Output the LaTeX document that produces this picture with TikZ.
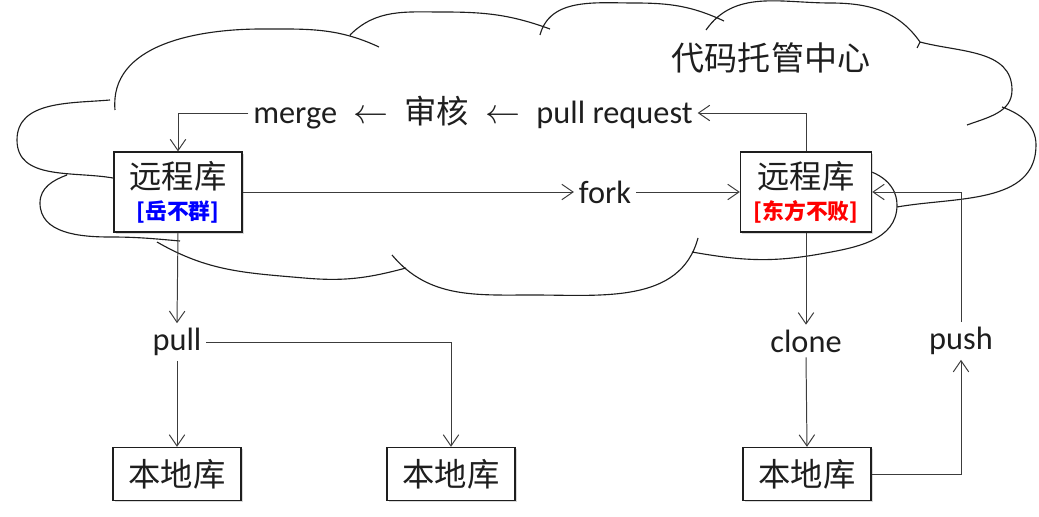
\documentclass[tikz,border=0pt]{standalone}
\usepackage{fontspec}
\setmainfont{Carlito}
\newfontfamily\cjk{Noto Sans CJK SC}
\usetikzlibrary{arrows.meta,shadows}
\definecolor{inkgray}{RGB}{30,30,30}
\definecolor{linegray}{RGB}{60,60,60}

\begin{document}
\begin{tikzpicture}[x=0.025cm, y=0.025cm,
    cloudline/.style={draw=inkgray, line width=0.8pt},
    repo/.style={rectangle, draw=inkgray, fill=white, line width=0.8pt, align=center,
        minimum width=3.2cm, drop shadow={shadow xshift=1.2pt, shadow yshift=-1.2pt, opacity=0.3}},
    remote/.style={repo, minimum height=2cm, font=\cjk\fontsize{23}{26}\selectfont, text=inkgray},
    local/.style={repo, minimum height=1.33cm, font=\cjk\fontsize{23}{26}\selectfont, text=inkgray},
    verb/.style={font=\fontsize{23}{26}\selectfont, text=inkgray},
    arrow/.style={-{Straight Barb[length=8pt,width=11pt]}, draw=linegray, line width=0.7pt}]

    \useasboundingbox (0,0) rectangle (1039,-517);

    % Cloud
    \draw[cloudline]
        (113,-178) to[out=170,in=270] (17,-140) to[out=90,in=185] (110,-100)
        (115,-110) to[out=95,in=180] (262,-29) to[out=0,in=155] (379,-47)
        (350,-35) to[out=45,in=180] (442,-12) to[out=0,in=160] (550,-29)
        (540,-35) to[out=75,in=180] (634,-3) to[out=0,in=155] (724,-21)
        (706,-30) to[out=55,in=180] (830,-3) to[out=0,in=125] (920,-42) -- (917,-48)
        (920,-42) to[out=-15,in=90] (1012,-90) to[out=-90,in=20] (967,-125)
        (1002,-107) to[out=-20,in=90] (1036,-145) to[out=-90,in=10] (897,-207)
        (850,-168) to[out=0,in=90] (897,-205) to[out=-90,in=10] (820,-254) to[out=190,in=-10] (692,-252)
        (392,-255) to[out=-50,in=180] (533,-295) to[out=0,in=-105] (698,-238)
        (157,-242) to[out=-30,in=175] (304,-278) to[out=-5,in=195] (406,-268)
        (67,-175) to[out=200,in=90] (40,-203) to[out=-90,in=180] (110,-237) to[out=0,in=175] (180,-241);

    % Hosting centre
    \node[font=\cjk\fontsize{23.5}{26}\selectfont, text=inkgray] (hub) at (771,-58) {代码托管中心};
    \node[verb] (rev) at (473,-113) {merge\enspace$\leftarrow$\enspace{\cjk 审核}\enspace$\leftarrow$\enspace pull request};

    % Remote repositories
    \node[remote] (rem1) at (178,-192) {远程库\\[-4pt]{\bfseries\fontsize{15.5}{18}\selectfont\color{blue}[岳不群]}};
    \node[remote, minimum width=3.28cm] (rem2) at (806,-192) {远程库\\[-4pt]{\bfseries\fontsize{15.5}{18}\selectfont\color{red}[东方不败]}};
    \node[verb] (fork) at (605,-192) {fork};

    % Operations
    \node[verb] (pull) at (177,-342) {pull};
    \node[verb] (clone) at (806,-341) {clone};
    \node[verb] (push) at (961,-341) {push};

    % Local repositories
    \node[local] (loc1) at (177,-474) {本地库};
    \node[local] (loc2) at (451,-474) {本地库};
    \node[local] (loc3) at (807,-474) {本地库};

    % Arrows
    \draw[arrow] (rev.west) -| (rem1.north);
    \draw[arrow] (rem2.north) |- (rev.east);
    \draw[arrow] (rem1.east) -- (fork.west);
    \draw[arrow] (fork.east) -- (rem2.west);
    \draw[arrow] (rem1.south) -- (pull.north);
    \draw[arrow] (pull.south) -- (loc1.north);
    \draw[arrow] (pull.east) -| (loc2.north);
    \draw[arrow] (rem2.south) -- (clone.north);
    \draw[arrow] (clone.south) -- (loc3.north);
    \draw[arrow] (loc3.east) -| (push.south);
    \draw[arrow] (push.north) |- (rem2.east);

\end{tikzpicture}
\end{document}
